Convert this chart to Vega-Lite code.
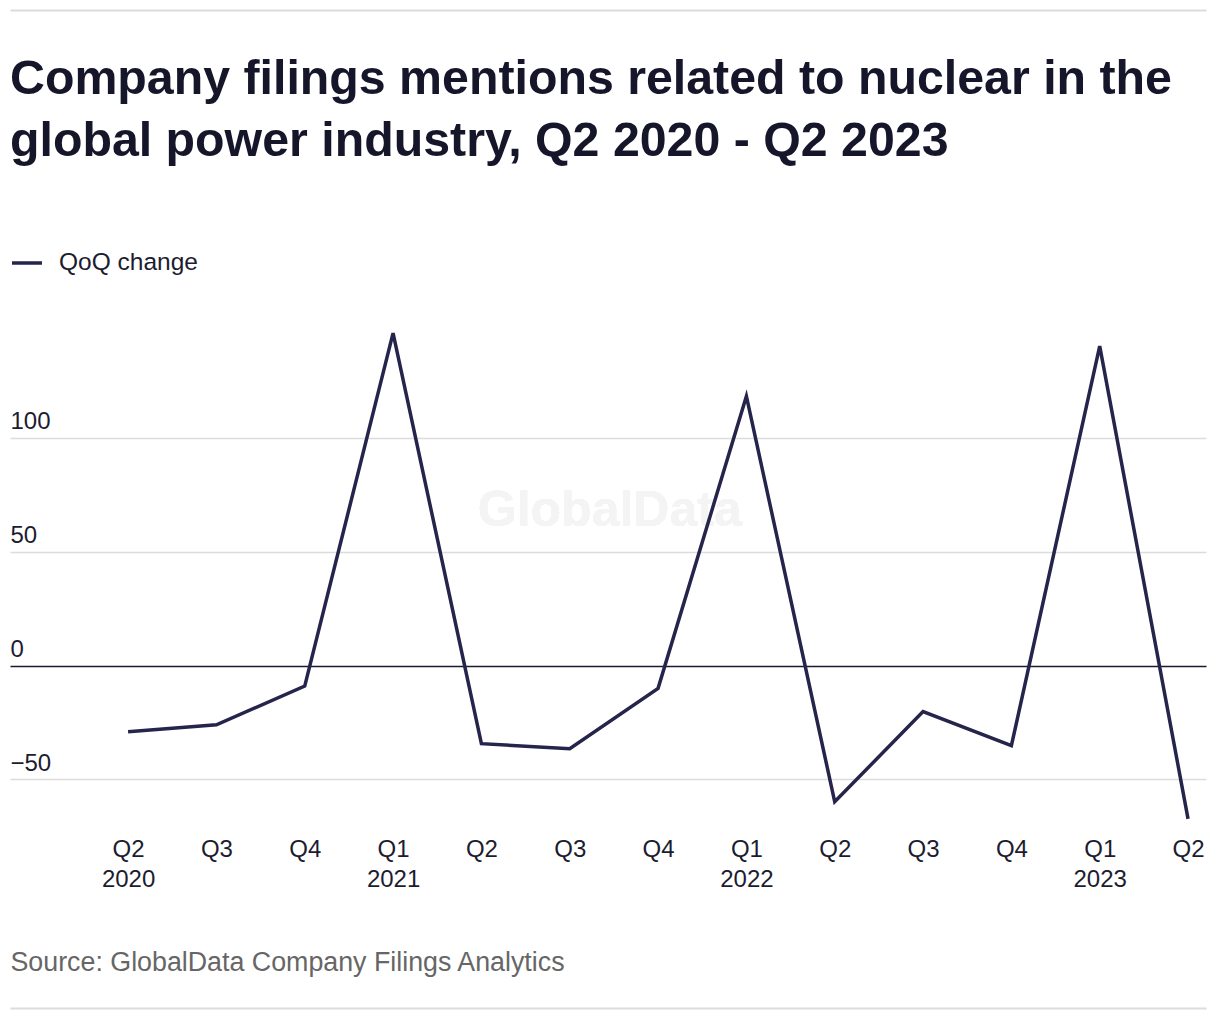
{
  "$schema": "https://vega.github.io/schema/vega-lite/v6.json",
  "autosize": {"type": "none"},
  "padding": {"left": 10, "top": 324, "right": 14, "bottom": 195},
  "width": 1196,
  "height": 501,
  "background": "white",
  "config": {
    "font": "Liberation Sans",
    "view": {"stroke": null}
  },
  "title": {
    "text": ["Company filings mentions related to nuclear in the", "global power industry, Q2 2020 - Q2 2023"],
    "anchor": "start",
    "frame": "group",
    "orient": "top",
    "offset": -204,
    "baseline": "bottom",
    "fontSize": 48.3,
    "fontWeight": "bold",
    "color": "#16162b",
    "lineHeight": 62
  },
  "data": {
    "values": [
      {"period": "Q2 2020", "change": -29},
      {"period": "Q3 2020", "change": -26},
      {"period": "Q4 2020", "change": -9},
      {"period": "Q1 2021", "change": 146},
      {"period": "Q2 2021", "change": -34.3},
      {"period": "Q3 2021", "change": -36.5},
      {"period": "Q4 2021", "change": -10},
      {"period": "Q1 2022", "change": 118.3},
      {"period": "Q2 2022", "change": -59.8},
      {"period": "Q3 2022", "change": -20.2},
      {"period": "Q4 2022", "change": -35.2},
      {"period": "Q1 2023", "change": 140.3},
      {"period": "Q2 2023", "change": -67.3}
    ]
  },
  "resolve": {"axis": {"x": "independent"}},
  "layer": [
    {
      "mark": {"type": "text", "text": "GlobalData", "fontSize": 50, "fontWeight": "bold", "color": "#f4f4f4", "dx": 40},
      "encoding": {
        "x": {
          "datum": "Q3 2021",
          "type": "ordinal",
          "axis": {"orient": "top", "offset": 314, "domain": true, "domainColor": "#dcdcdc", "domainWidth": 2, "labels": false, "ticks": false, "grid": false, "title": null}
        },
        "y": {"datum": 68, "type": "quantitative"}
      }
    },
    {
      "mark": {"type": "line", "strokeWidth": 3.5, "strokeJoin": "miter"},
      "encoding": {
        "x": {
          "field": "period",
          "type": "ordinal",
          "scale": {
            "type": "point",
            "domain": ["Q2 2020", "Q3 2020", "Q4 2020", "Q1 2021", "Q2 2021", "Q3 2021", "Q4 2021", "Q1 2022", "Q2 2022", "Q3 2022", "Q4 2022", "Q1 2023", "Q2 2023"],
            "padding": 0.77,
            "align": 0.868
          },
          "axis": {
            "orient": "bottom",
            "offset": 183,
            "domain": true,
            "domainColor": "#dcdcdc",
            "domainWidth": 2,
            "ticks": false,
            "tickSize": 0,
            "grid": false,
            "labelAngle": 0,
            "labelPadding": -171,
            "labelBaseline": "top",
            "labelFontSize": 24,
            "labelColor": "#1c1c30",
            "labelLineHeight": 30,
            "labelExpr": "indexof(datum.value, 'Q1') === 0 || datum.value === 'Q2 2020' ? split(datum.value, ' ') : split(datum.value, ' ')[0]",
            "title": "Source: GlobalData Company Filings Analytics",
            "titleAnchor": "start",
            "titleAlign": "left",
            "titleX": 0,
            "titleY": -38,
            "titleBaseline": "alphabetic",
            "titleFontSize": 26.8,
            "titleFontWeight": "normal",
            "titleColor": "#666666"
          }
        },
        "y": {
          "field": "change",
          "type": "quantitative",
          "scale": {"domain": [-70, 150], "nice": false, "zero": false},
          "axis": {
            "values": [-50, 0, 50, 100],
            "domain": false,
            "ticks": false,
            "tickSize": 0,
            "labelPadding": 0,
            "labelAlign": "left",
            "labelBaseline": "alphabetic",
            "labelOffset": -9,
            "labelFontSize": 24,
            "labelColor": "#1c1c30",
            "grid": true,
            "gridWidth": 1.5,
            "gridColor": {"condition": {"test": "datum.value === 0", "value": "#1b1b2f"}, "value": "#dcdcdc"},
            "title": null
          }
        },
        "color": {
          "datum": "QoQ change",
          "type": "nominal",
          "scale": {"range": ["#25244a"]},
          "legend": {
            "orient": "none",
            "legendX": 0,
            "legendY": -78,
            "title": null,
            "padding": 0,
            "symbolType": "stroke",
            "symbolStrokeWidth": 3.5,
            "symbolSize": 900,
            "labelFontSize": 24.5,
            "labelColor": "#1c1c30",
            "labelOffset": 15
          }
        }
      }
    }
  ]
}
